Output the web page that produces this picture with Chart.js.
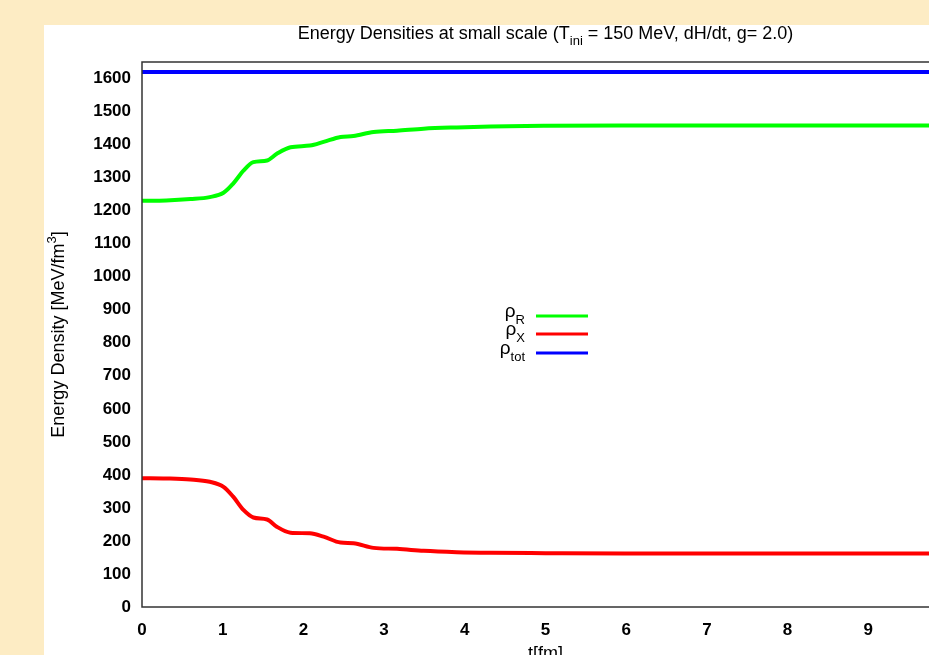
<!DOCTYPE html>
<html>
<head>
<meta charset="utf-8">
<script src="https://cdn.jsdelivr.net/npm/chart.js@4.4.1/dist/chart.umd.min.js"></script>
<style>
  html, body { margin: 0; padding: 0; width: 929px; height: 655px; overflow: hidden; background: #fdecc4; }
  #panel { position: absolute; left: 44px; top: 25px; width: 940px; height: 650px; background: #ffffff; }
</style>
</head>
<body>
<div id="panel"><canvas id="chart" width="940" height="650" style="width:940px;height:650px"></canvas></div>
<script>
// time in fm, energy densities in MeV/fm^3
const tValues = [0, 0.3, 0.6, 0.84, 1.01, 1.13, 1.26, 1.38, 1.55, 1.67, 1.84, 2.08, 2.25, 2.46, 2.62, 2.87, 3.16, 3.49, 3.9, 4.32, 5, 6, 7, 8, 9, 10];
const rhoR   = [1230, 1231, 1235, 1241, 1254, 1282, 1322, 1347, 1352, 1372, 1392, 1397, 1408, 1423, 1426, 1438, 1442, 1448, 1452, 1455, 1457, 1458, 1458, 1458, 1458, 1458];
const rhoX   = [390, 389, 386, 379, 364, 334, 293, 271, 265, 243, 225, 223, 213, 195, 193, 179, 176, 170, 166, 164, 163, 162, 162, 162, 162, 162];
const rhoTot = [1620, 1620, 1620, 1620, 1620, 1620, 1620, 1620, 1620, 1620, 1620, 1620, 1620, 1620, 1620, 1620, 1620, 1620, 1620, 1620, 1620, 1620, 1620, 1620, 1620, 1620];

const yTicks = [0, 100, 200, 300, 400, 500, 600, 700, 800, 900, 1000, 1100, 1200, 1300, 1400, 1500, 1600];
const xTicks = [0, 1, 2, 3, 4, 5, 6, 7, 8, 9, 10];

const seriesSubs = ['R', 'X', 'tot'];
const seriesColors = ['#00ff00', '#ff0000', '#0000ff'];

const FONT = '"Liberation Sans", Arial, Helvetica, sans-serif';

function toPoints(ys) {
    return ys.map((y, i) => ({ x: tValues[i], y: y }));
}

// draws text made of normal / sub / sup pieces
function drawRich(ctx, parts, x, y, size, align, weight) {
    const small = Math.round(size * 0.7);
    let total = 0;
    parts.forEach(p => {
        ctx.font = (weight || 'normal') + ' ' + (p.sub || p.sup ? small : size) + 'px ' + FONT;
        p.w = ctx.measureText(p.t).width;
        total += p.w;
    });
    let cx = x;
    if (align === 'center') cx = x - total / 2;
    if (align === 'right') cx = x - total;
    ctx.textAlign = 'left';
    ctx.textBaseline = 'alphabetic';
    parts.forEach(p => {
        ctx.font = (weight || 'normal') + ' ' + (p.sub || p.sup ? small : size) + 'px ' + FONT;
        let dy = 0;
        if (p.sub) dy = size * 0.35;
        if (p.sup) dy = -size * 0.45;
        ctx.fillText(p.t, cx, y + dy);
        cx += p.w;
    });
}

const textPlugin = {
    id: 'richText',
    afterDraw(chart) {
        const ctx = chart.ctx;
        const a = chart.chartArea;
        ctx.save();
        // plot frame
        ctx.strokeStyle = '#333333';
        ctx.lineWidth = 1.5;
        ctx.strokeRect(a.left, a.top, a.right - a.left, a.bottom - a.top);

        ctx.fillStyle = '#000000';
        const midX = (a.left + a.right) / 2;
        // title
        drawRich(ctx, [
            { t: 'Energy Densities at small scale (T' },
            { t: 'ini', sub: true },
            { t: ' = 150 MeV, dH/dt, g= 2.0)' }
        ], midX, 14, 18, 'center');

        // x axis title
        drawRich(ctx, [{ t: 't[fm]' }], midX, 634, 18, 'center');

        // y axis title
        ctx.save();
        ctx.translate(13, (a.top + a.bottom) / 2);
        ctx.rotate(-Math.PI / 2);
        drawRich(ctx, [
            { t: 'Energy Density [MeV/fm' },
            { t: '3', sup: true },
            { t: ']' }
        ], 0, 7, 18, 'center');
        ctx.restore();

        // legend
        const legY = [291, 309, 328];
        seriesSubs.forEach((s, i) => {
            ctx.fillStyle = '#000000';
            drawRich(ctx, [{ t: 'ρ' }, { t: s, sub: true }], 481, legY[i] + 1, 19, 'right');
            ctx.strokeStyle = seriesColors[i];
            ctx.lineWidth = 3;
            ctx.beginPath();
            ctx.moveTo(492, legY[i]);
            ctx.lineTo(544, legY[i]);
            ctx.stroke();
        });
        ctx.restore();
    }
};

const ctx = document.getElementById('chart').getContext('2d');
new Chart(ctx, {
    type: 'line',
    data: {
        datasets: [
            { label: 'rho_R', data: toPoints(rhoR), borderColor: seriesColors[0] },
            { label: 'rho_X', data: toPoints(rhoX), borderColor: seriesColors[1] },
            { label: 'rho_tot', data: toPoints(rhoTot), borderColor: seriesColors[2] }
        ]
    },
    options: {
        responsive: false,
        animation: false,
        layout: { padding: { top: 37, right: 35, left: 0, bottom: 0 } },
        elements: {
            line: { borderWidth: 4, cubicInterpolationMode: 'monotone', fill: false },
            point: { radius: 0 }
        },
        plugins: {
            legend: { display: false },
            title: { display: false },
            tooltip: { enabled: false }
        },
        scales: {
            x: {
                type: 'linear',
                min: 0,
                max: 10,
                grid: { display: false, drawTicks: false },
                border: { display: false },
                afterBuildTicks(scale) { scale.ticks = xTicks.map(v => ({ value: v })); },
                ticks: {
                    autoSkip: false,
                    maxRotation: 0,
                    padding: 13,
                    color: '#000000',
                    font: { family: FONT, size: 17, weight: 'bold' },
                    callback: v => String(v)
                },
                afterFit(scale) { scale.height = 68; }
            },
            y: {
                min: 0,
                max: 1650,
                grid: { display: false, drawTicks: false },
                border: { display: false },
                afterBuildTicks(scale) { scale.ticks = yTicks.map(v => ({ value: v })); },
                ticks: {
                    autoSkip: false,
                    padding: 11,
                    color: '#000000',
                    font: { family: FONT, size: 17, weight: 'bold' },
                    callback: v => String(v)
                },
                afterFit(scale) { scale.width = 98; }
            }
        }
    },
    plugins: [textPlugin]
});
</script>
</body>
</html>
